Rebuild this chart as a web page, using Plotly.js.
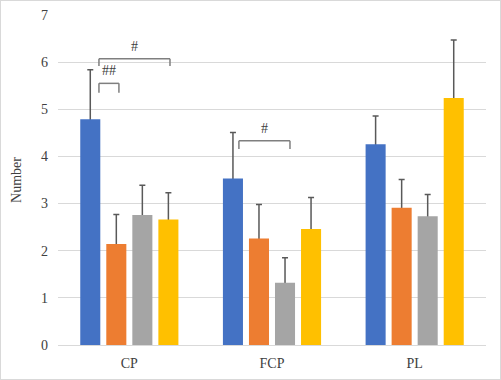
<!DOCTYPE html>
<html><head><meta charset="utf-8">
<script src="https://cdn.plot.ly/plotly-3.0.1.min.js"></script>
<style>
html,body{margin:0;padding:0;background:#fff;}
#wrap{position:relative;width:501px;height:380px;}
#chart{width:501px;height:380px;}
#frame{position:absolute;left:0;top:0;width:499px;height:378px;border:1px solid #d9d9d9;pointer-events:none;}
</style></head>
<body>
<div id="wrap"><div id="chart"></div><div id="frame"></div></div>
<script>
const categories = ["CP", "FCP", "PL"];
const seriesColors = ["#4472C4", "#ED7D31", "#A5A5A5", "#FFC000"];
const s1 = [4.79, 3.53, 4.26];
const s1err = [1.05, 0.98, 0.60];
const s2 = [2.14, 2.26, 2.91];
const s2err = [0.63, 0.72, 0.60];
const s3 = [2.76, 1.32, 2.73];
const s3err = [0.63, 0.53, 0.46];
const s4 = [2.66, 2.46, 5.24];
const s4err = [0.57, 0.67, 1.23];
const yTicks = [0, 1, 2, 3, 4, 5, 6, 7];

const values = [s1, s2, s3, s4];
const errs = [s1err, s2err, s3err, s4err];
const traces = [];
values.forEach((v, i) => {
  // error-bar carrier (transparent), drawn first so the real bar hides its lower end
  traces.push({
    type: "bar", x: categories, y: v, offsetgroup: "g" + i,
    marker: {color: "rgba(0,0,0,0)"},
    error_y: {type: "data", symmetric: false, array: errs[i], arrayminus: v.map(y => y * 0.5),
              color: "#595959", thickness: 1.5, width: 3},
    showlegend: false, hoverinfo: "none"
  });
});
values.forEach((v, i) => {
  traces.push({
    type: "bar", x: categories, y: v, offsetgroup: "g" + i,
    marker: {color: seriesColors[i]},
    showlegend: false, hoverinfo: "none"
  });
});

// significance brackets: [x0, x1, yTop, yLeg, label, labelY]
const brackets = [
  [-0.213, 0.285, 6.07, 5.92, "#", 6.34],
  [-0.213, -0.073, 5.55, 5.35, "##", 5.83],
  [0.768, 1.126, 4.33, 4.16, "#", 4.60]
];
const shapes = [];
const annotations = [];
const bc = "#7f7f7f";
brackets.forEach(b => {
  const [x0, x1, yt, yl, lab, ly] = b;
  shapes.push({type: "line", xref: "x", yref: "y", x0: x0, x1: x1, y0: yt, y1: yt, line: {color: bc, width: 1.5}});
  shapes.push({type: "line", xref: "x", yref: "y", x0: x0, x1: x0, y0: yt, y1: yl, line: {color: bc, width: 1.5}});
  shapes.push({type: "line", xref: "x", yref: "y", x0: x1, x1: x1, y0: yt, y1: yl, line: {color: bc, width: 1.5}});
  annotations.push({xref: "x", yref: "y", x: (x0 + x1) / 2, y: ly, text: lab, showarrow: false,
    font: {family: "Liberation Serif, Times New Roman, serif", size: 14, color: "#404040"}});
});

const layout = {
  width: 501, height: 380,
  margin: {l: 58, r: 15, t: 15, b: 35},
  paper_bgcolor: "#fff", plot_bgcolor: "#fff",
  barmode: "group", bargap: 0.27, bargroupgap: 0.23,
  font: {family: "Liberation Serif, Times New Roman, serif", size: 14, color: "#404040"},
  xaxis: {type: "category", showline: true, linecolor: "#d9d9d9", linewidth: 1, ticks: "",
          ticklabelstandoff: 5,
          showgrid: false, tickfont: {size: 14, color: "#404040"}, fixedrange: true},
  yaxis: {range: [0, 7], tickvals: yTicks, showgrid: true, gridcolor: "#d9d9d9", gridwidth: 1,
          zeroline: false, showline: false, ticks: "", ticklabelstandoff: 9,
          tickfont: {size: 14, color: "#404040"},
          title: {text: "Number", font: {size: 14, color: "#404040"}, standoff: 16}},
  shapes: shapes,
  annotations: annotations
};
Plotly.newPlot("chart", traces, layout, {displayModeBar: false, staticPlot: true});
</script>
</body></html>
